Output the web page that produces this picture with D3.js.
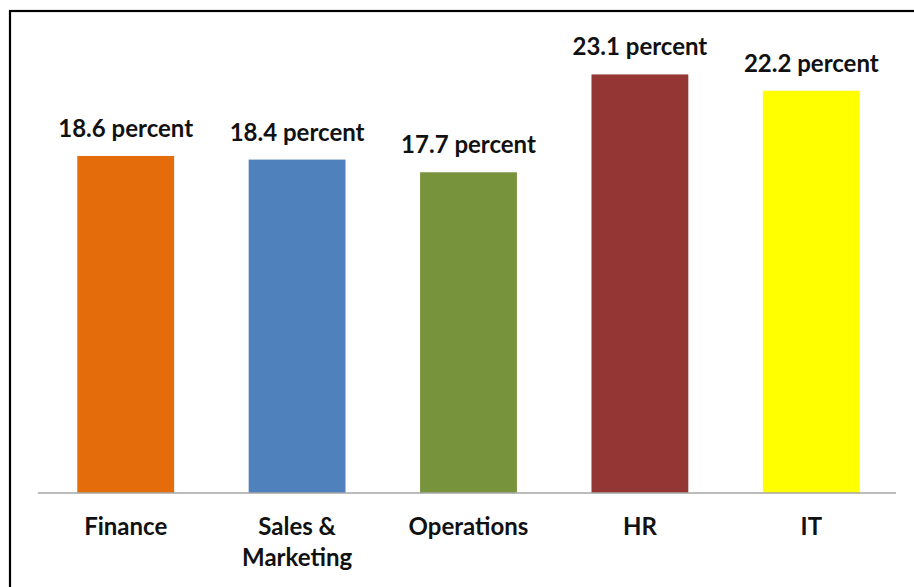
<!DOCTYPE html>
<html>
<head>
<meta charset="utf-8">
<script src="https://cdn.jsdelivr.net/npm/d3@7"></script>
<style>
  html, body { margin: 0; padding: 0; background: #fff; }
  svg { display: block; }
  text { font-family: Lato, "Open Sans", sans-serif; font-weight: 700; fill: #111; }
</style>
</head>
<body>
<svg id="chart" width="914" height="587"></svg>
<script>
// Departments and their share, in percent
const categories = ["Finance", "Sales & Marketing", "Operations", "HR", "IT"];
const categoryLines = [["Finance"], ["Sales &", "Marketing"], ["Operations"], ["HR"], ["IT"]];
const values = [18.6, 18.4, 17.7, 23.1, 22.2];
const valueLabels = ["18.6 percent", "18.4 percent", "17.7 percent", "23.1 percent", "22.2 percent"];
const barColors = ["#E46C0A", "#4F81BD", "#77933C", "#943634", "#FFFF00"];

const svg = d3.select("#chart");

// Outer frame of the chart area (right and bottom run past the page edge)
svg.append("rect")
  .attr("x", 10).attr("y", 11)
  .attr("width", 930).attr("height", 600)
  .attr("fill", "none")
  .attr("stroke", "#000")
  .attr("stroke-width", 2.2);

const x = d3.scaleBand()
  .domain(categories)
  .range([40, 897])
  .paddingInner(0.435)
  .paddingOuter(0.2175);

const y = d3.scaleLinear()
  .domain([0, 25])
  .range([493, 40]);

// Bars
svg.append("g")
  .selectAll("rect")
  .data(categories)
  .join("rect")
  .attr("x", d => x(d))
  .attr("width", x.bandwidth())
  .attr("y", (d, i) => y(values[i]))
  .attr("height", (d, i) => y(0) - y(values[i]))
  .attr("fill", (d, i) => barColors[i]);

// Category axis along the baseline
const xAxis = svg.append("g")
  .attr("transform", `translate(0,${y(0)})`)
  .call(d3.axisBottom(x).tickSize(0).tickFormat(""));
xAxis.select(".domain").attr("stroke", "#a6a6a6").attr("stroke-width", 1.6)
  .attr("d", "M38,0H896");

// Category labels (wrapped)
const catLabels = svg.append("g")
  .selectAll("text")
  .data(categories)
  .join("text")
  .attr("text-anchor", "middle")
  .attr("font-size", 24)
  .attr("x", d => x(d) + x.bandwidth() / 2)
  .attr("y", 535);
catLabels.each(function(d, i) {
  const t = d3.select(this);
  categoryLines[i].forEach((line, j) => {
    t.append("tspan")
      .attr("x", x(d) + x.bandwidth() / 2)
      .attr("dy", j === 0 ? 0 : 31)
      .text(line);
  });
});

// Value labels above each bar
svg.append("g")
  .selectAll("text")
  .data(categories)
  .join("text")
  .attr("text-anchor", "middle")
  .attr("font-size", 24)
  .attr("x", d => x(d) + x.bandwidth() / 2)
  .attr("y", (d, i) => y(values[i]) - 19)
  .text((d, i) => valueLabels[i]);
</script>
</body>
</html>
